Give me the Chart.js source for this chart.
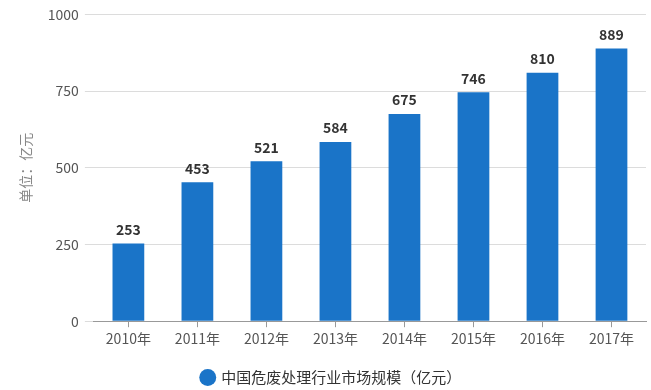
<!DOCTYPE html>
<html><head><meta charset="utf-8">
<script src="https://cdn.jsdelivr.net/npm/chart.js@4/dist/chart.umd.min.js"></script>
<style>html,body{margin:0;padding:0;background:#fff}#wrap{width:651px;height:390px}</style>
</head><body><div id="wrap"><canvas id="c"></canvas></div>
<script>
const categories = ["2010年","2011年","2012年","2013年","2014年","2015年","2016年","2017年"];
const marketSize = [253,453,521,584,675,746,810,889];
const yTicks = [0,250,500,750,1000];
const seriesName = "中国危废处理行业市场规模（亿元）";
const yTitle = "单位：亿元";

const FONT = '"Noto Sans CJK SC", "Microsoft YaHei", sans-serif';
const valueLabels = {
  id:'valueLabels',
  afterDatasetsDraw(chart){
    const ctx = chart.ctx;
    const meta = chart.getDatasetMeta(0);
    ctx.save();
    ctx.font = 'bold 14px ' + FONT;
    ctx.fillStyle = '#333';
    ctx.textAlign = 'center';
    ctx.textBaseline = 'bottom';
    meta.data.forEach((el,i)=>{
      ctx.fillText(String(chart.data.datasets[0].data[i]), el.x, el.y - 7);
    });
    ctx.restore();
  }
};
new Chart(document.getElementById('c'),{
  type:'bar',
  data:{labels:categories,datasets:[{label:seriesName,data:marketSize,backgroundColor:'#1a74c8',borderWidth:0,barPercentage:0.46,categoryPercentage:1}]},
  options:{
    responsive:true,maintainAspectRatio:false,animation:false,
    layout:{padding:{top:12,right:5,left:17,bottom:-5}},
    plugins:{
      legend:{position:'bottom',labels:{usePointStyle:true,pointStyle:'circle',boxWidth:12,boxHeight:12,padding:13,color:'#333',font:{family:FONT,size:15}}},
      tooltip:{enabled:false}
    },
    scales:{
      x:{
        grid:{display:true,drawOnChartArea:false,offset:false,tickLength:6,color:'#999'},
        border:{display:true,color:'#999'},
        ticks:{color:'#555',font:{family:FONT,size:14},padding:3},
        afterFit(s){ s.height += 7; }
      },
      y:{
        min:0,max:1000,
        afterBuildTicks(s){s.ticks = yTicks.map(v=>({value:v}));},
        grid:{color:'#dcdcdc',tickLength:9},
        border:{display:false},
        ticks:{color:'#555',font:{family:FONT,size:14},padding:6,callback:(v)=>String(v)},
        title:{display:true,text:yTitle,color:'#888',font:{family:FONT,size:14},padding:{top:0,bottom:8}}
      }
    }
  },
  plugins:[valueLabels]
});
</script></body></html>
